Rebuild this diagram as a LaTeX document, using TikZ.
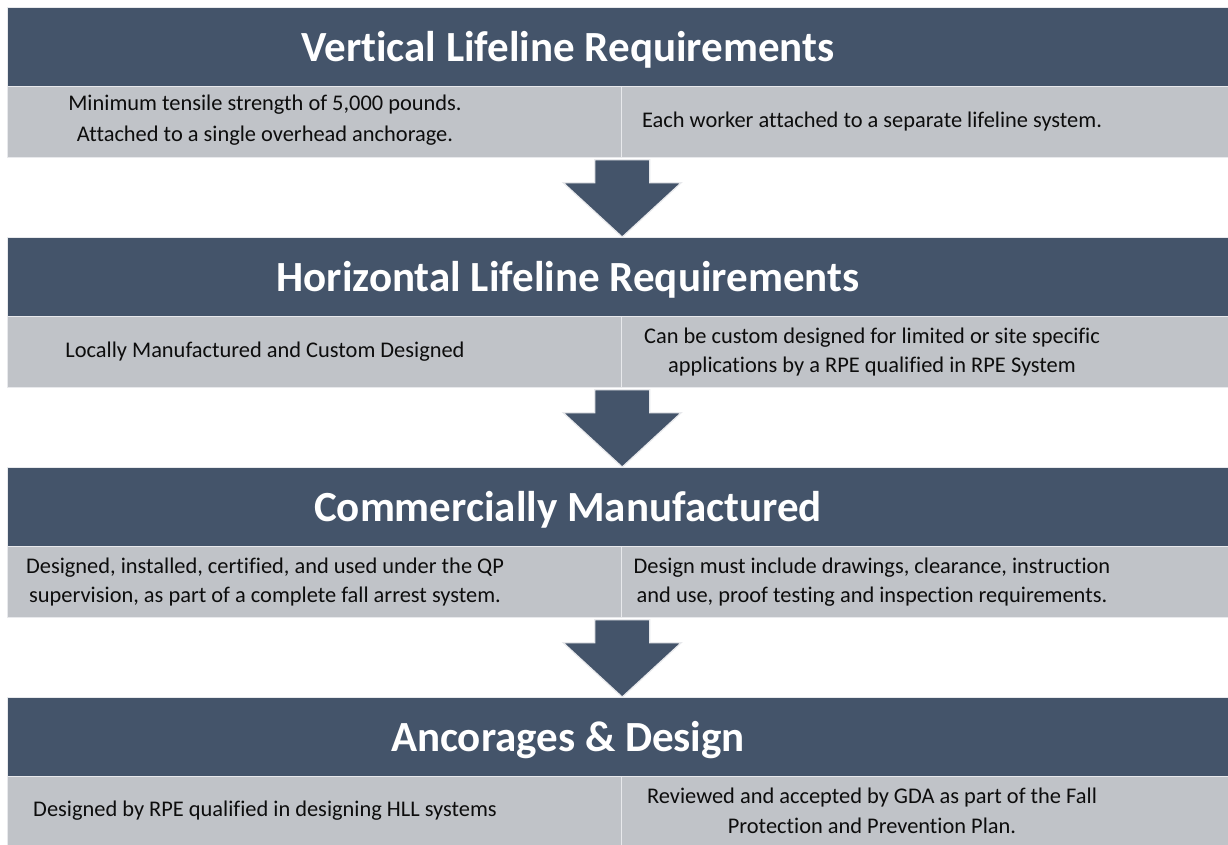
\documentclass[tikz,border=0pt]{standalone}
\usepackage{fontspec}
\setmainfont{Carlito}[Ligatures=NoCommon]
\usetikzlibrary{calc}
\definecolor{hdr}{RGB}{68,84,106}
\definecolor{lgray}{RGB}{192,195,200}
\definecolor{edgec}{RGB}{232,233,236}
\definecolor{ink}{RGB}{13,13,13}
\begin{document}
\begin{tikzpicture}[x=1pt,y=-1pt,
  hdrbox/.style={fill=hdr, draw=edgec, line width=1.2pt, anchor=north west,
    minimum width=1221pt, minimum height=79pt, inner sep=0pt},
  graybox/.style={fill=lgray, draw=edgec, line width=1.2pt, anchor=north west,
    minimum height=71pt, inner sep=0pt},
  hdrtext/.style={anchor=base, text=white, inner sep=0pt,
    font=\fontsize{43}{46}\selectfont\bfseries},
  bodytext/.style={anchor=center, text=ink, inner sep=0pt, align=center,
    font=\fontsize{22.4}{29.5}\selectfont},
  blockarrow/.style={fill=hdr, draw=edgec, line width=1.2pt, line join=miter}
]
\useasboundingbox (0,0) rectangle (1228,844);
\fill[white] (0,0) rectangle (1228,844);

% section 1
\node[hdrbox] (h1) at (7,7) {};
\node[graybox, minimum width=614pt] (l1) at (7,86) {};
\node[graybox, minimum width=607pt] (r1) at (621,86) {};
\node[hdrtext] (t1) at (568,61) {Vertical Lifeline Requirements};
\node[bodytext, font=\fontsize{22.4}{30.5}\selectfont] (l1t) at (265,120) {Minimum tensile strength of 5,000 pounds.\\Attached to a single overhead anchorage.};
\node[bodytext] (r1t) at (872,122) {Each worker attached to a separate lifeline system.};

% section 2
\node[hdrbox] (h2) at (7,237) {};
\node[graybox, minimum width=614pt] (l2) at (7,316) {};
\node[graybox, minimum width=607pt] (r2) at (621,316) {};
\node[hdrtext] (t2) at (568,291) {Horizontal Lifeline Requirements};
\node[bodytext] (l2t) at (265,352) {Locally Manufactured and Custom Designed};
\node[bodytext] (r2t) at (872,352) {Can be custom designed for limited or site specific\\applications by a RPE qualified in RPE System};

% section 3
\node[hdrbox] (h3) at (7,467) {};
\node[graybox, minimum width=614pt] (l3) at (7,546) {};
\node[graybox, minimum width=607pt] (r3) at (621,546) {};
\node[hdrtext] (t3) at (568,521) {Commercially Manufactured};
\node[bodytext] (l3t) at (265,582) {Designed, installed, certified, and used under the QP\\supervision, as part of a complete fall arrest system.};
\node[bodytext] (r3t) at (872,582) {Design must include drawings, clearance, instruction\\and use, proof testing and inspection requirements.};

% section 4
\node[hdrbox] (h4) at (7,697) {};
\node[graybox, minimum width=614pt] (l4) at (7,776) {};
\node[graybox, minimum width=607pt] (r4) at (621,776) {};
\node[hdrtext] (t4) at (568,751) {Ancorages \& Design};
\node[bodytext] (l4t) at (265,811) {Designed by RPE qualified in designing HLL systems};
\node[bodytext] (r4t) at (872,811) {Reviewed and accepted by GDA as part of the Fall\\Protection and Prevention Plan.};

% block arrows between sections
\foreach \s/\n in {l1/h2, l2/h3, l3/h4}{
  \coordinate (top) at ($(\s.south east)+(0,1.5)$);
  \coordinate (tip) at (\s.south east |- \n.north);
  \draw[blockarrow] ($(top)+(-27.5,0)$) -- ($(top)+(27.5,0)$) -- ($(top)+(27.5,23)$)
     -- ($(top)+(59,23)$) -- (tip) -- ($(top)+(-59,23)$) -- ($(top)+(-27.5,23)$) -- cycle;
}
\end{tikzpicture}
\end{document}
